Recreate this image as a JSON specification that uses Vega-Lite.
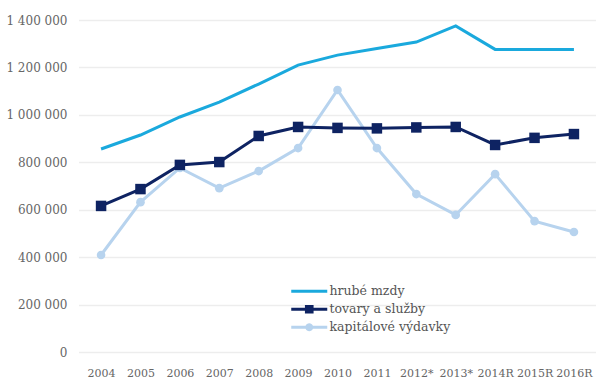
{
  "$schema": "https://vega.github.io/schema/vega-lite/v6.json",
  "width": 517,
  "height": 332,
  "autosize": {"type": "none"},
  "padding": {"left": 79, "top": 20, "right": 0, "bottom": 28},
  "background": "white",
  "config": {
    "view": {"stroke": null},
    "font": "DejaVu Serif",
    "axis": {"labelFont": "DejaVu Serif", "labelColor": "#666666", "labelFontSize": 12},
    "legend": {"labelFont": "DejaVu Serif"}
  },
  "data": {
    "values": [
      {"rok": "2004", "seria": "kapitálové výdavky", "hodnota": 409000},
      {"rok": "2005", "seria": "kapitálové výdavky", "hodnota": 632000},
      {"rok": "2006", "seria": "kapitálové výdavky", "hodnota": 776000},
      {"rok": "2007", "seria": "kapitálové výdavky", "hodnota": 691000},
      {"rok": "2008", "seria": "kapitálové výdavky", "hodnota": 763000},
      {"rok": "2009", "seria": "kapitálové výdavky", "hodnota": 860000},
      {"rok": "2010", "seria": "kapitálové výdavky", "hodnota": 1105000},
      {"rok": "2011", "seria": "kapitálové výdavky", "hodnota": 860000},
      {"rok": "2012*", "seria": "kapitálové výdavky", "hodnota": 666000},
      {"rok": "2013*", "seria": "kapitálové výdavky", "hodnota": 578000},
      {"rok": "2014R", "seria": "kapitálové výdavky", "hodnota": 750000},
      {"rok": "2015R", "seria": "kapitálové výdavky", "hodnota": 552000},
      {"rok": "2016R", "seria": "kapitálové výdavky", "hodnota": 506000},
      {"rok": "2004", "seria": "tovary a služby", "hodnota": 616000},
      {"rok": "2005", "seria": "tovary a služby", "hodnota": 687000},
      {"rok": "2006", "seria": "tovary a služby", "hodnota": 789000},
      {"rok": "2007", "seria": "tovary a služby", "hodnota": 801000},
      {"rok": "2008", "seria": "tovary a služby", "hodnota": 911000},
      {"rok": "2009", "seria": "tovary a služby", "hodnota": 949000},
      {"rok": "2010", "seria": "tovary a služby", "hodnota": 945000},
      {"rok": "2011", "seria": "tovary a služby", "hodnota": 943000},
      {"rok": "2012*", "seria": "tovary a služby", "hodnota": 947000},
      {"rok": "2013*", "seria": "tovary a služby", "hodnota": 949000},
      {"rok": "2014R", "seria": "tovary a služby", "hodnota": 873000},
      {"rok": "2015R", "seria": "tovary a služby", "hodnota": 903000},
      {"rok": "2016R", "seria": "tovary a služby", "hodnota": 919000},
      {"rok": "2004", "seria": "hrubé mzdy", "hodnota": 856000},
      {"rok": "2005", "seria": "hrubé mzdy", "hodnota": 915000},
      {"rok": "2006", "seria": "hrubé mzdy", "hodnota": 991000},
      {"rok": "2007", "seria": "hrubé mzdy", "hodnota": 1054000},
      {"rok": "2008", "seria": "hrubé mzdy", "hodnota": 1130000},
      {"rok": "2009", "seria": "hrubé mzdy", "hodnota": 1210000},
      {"rok": "2010", "seria": "hrubé mzdy", "hodnota": 1252000},
      {"rok": "2011", "seria": "hrubé mzdy", "hodnota": 1280000},
      {"rok": "2012*", "seria": "hrubé mzdy", "hodnota": 1307000},
      {"rok": "2013*", "seria": "hrubé mzdy", "hodnota": 1375000},
      {"rok": "2014R", "seria": "hrubé mzdy", "hodnota": 1276000},
      {"rok": "2015R", "seria": "hrubé mzdy", "hodnota": 1276000},
      {"rok": "2016R", "seria": "hrubé mzdy", "hodnota": 1276000}
    ]
  },
  "encoding": {
    "x": {
      "field": "rok",
      "type": "ordinal",
      "sort": null,
      "scale": {"type": "point", "padding": 0.56},
      "axis": {"title": null, "labelAngle": 0, "domain": false, "ticks": false, "labelPadding": 15, "grid": false, "labelFontSize": 11}
    },
    "y": {
      "field": "hodnota",
      "type": "quantitative",
      "scale": {"domain": [0, 1400000], "nice": false},
      "axis": {
        "title": null,
        "values": [0, 200000, 400000, 600000, 800000, 1000000, 1200000, 1400000],
        "labelExpr": "replace(format(datum.value, ','), regexp(',', 'g'), ' ')",
        "domain": false,
        "ticks": false,
        "labelPadding": 12,
        "grid": true,
        "gridColor": "#dadada",
        "gridDash": [1, 1],
        "gridWidth": 1.5
      }
    },
    "color": {
      "field": "seria",
      "type": "nominal",
      "scale": {
        "domain": ["hrubé mzdy", "tovary a služby", "kapitálové výdavky"],
        "range": ["#1aa9dd", "#0e2362", "#b7d3ee"]
      }
    }
  },
  "layer": [
    {
      "mark": {"type": "line", "strokeWidth": 3},
      "encoding": {
        "color": {
          "field": "seria",
          "type": "nominal",
          "legend": {
            "title": null,
            "orient": "none",
            "legendX": 211,
            "legendY": 265,
            "symbolType": "stroke",
            "symbolSize": 100,
            "symbolStrokeWidth": 0,
            "labelFont": "DejaVu Serif",
            "labelFontSize": 12.5,
            "labelColor": "#555555",
            "labelOffset": 27,
            "rowPadding": 5,
            "encode": {
              "symbols": {
                "update": {
                  "shape": {"signal": "datum.value === 'hrubé mzdy' ? 'M-1,-0.29H6.2V0.29H-1Z' : datum.value === 'tovary a služby' ? 'M-1,-0.29H1.736V-0.864H3.464V-0.29H6.2V0.29H3.464V0.864H1.736V0.29H-1Z' : 'M-1,-0.29H1.863A0.792,0.792 0 0 1 3.337,-0.29H6.2V0.29H3.337A0.792,0.792 0 0 1 1.863,0.29H-1Z'"},
                  "fill": {"signal": "datum.value === 'hrubé mzdy' ? '#1aa9dd' : datum.value === 'tovary a služby' ? '#0e2362' : '#b7d3ee'"},
                  "strokeWidth": {"value": 0},
                  "opacity": {"value": 1}
                }
              }
            }
          }
        }
      }
    },
    {
      "transform": [{"filter": "datum.seria !== 'hrubé mzdy'"}],
      "mark": {"type": "point", "filled": true, "opacity": 1},
      "encoding": {
        "shape": {
          "field": "seria",
          "type": "nominal",
          "scale": {"domain": ["tovary a služby", "kapitálové výdavky"], "range": ["square", "circle"]},
          "legend": null
        },
        "size": {
          "field": "seria",
          "type": "nominal",
          "scale": {"domain": ["tovary a služby", "kapitálové výdavky"], "range": [110, 75]},
          "legend": null
        },
        "color": {"field": "seria", "type": "nominal", "legend": null}
      }
    }
  ]
}
